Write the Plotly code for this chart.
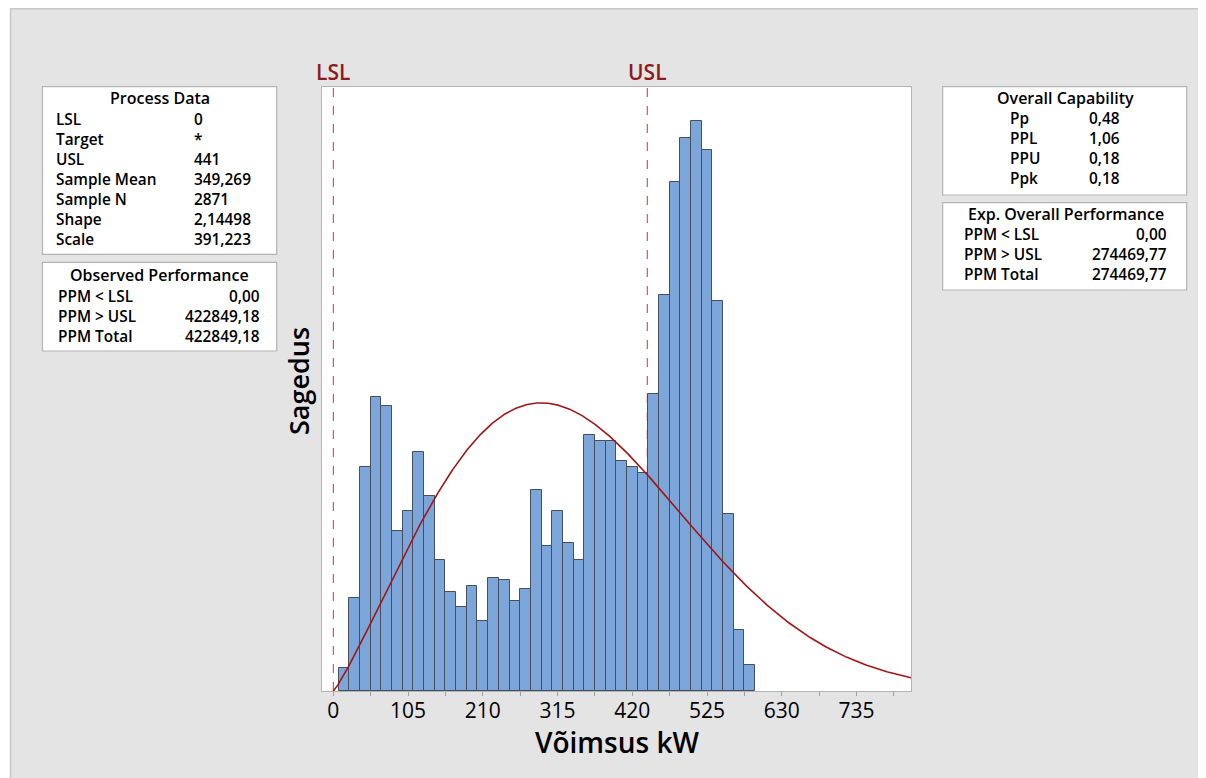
import numpy as np
import plotly.graph_objects as go

# ---------------- data ----------------
bin_centers = [15, 30, 45, 60, 75, 90, 105, 120, 135, 150, 165, 180, 195, 210, 225,
               240, 255, 270, 285, 300, 315, 330, 345, 360, 375, 390, 405, 420, 435,
               450, 465, 480, 495, 510, 525, 540, 555, 570, 585]
bin_counts = [8, 32, 77, 101, 98, 55, 62, 82, 67, 45, 34, 29, 36, 24, 39,
              38, 31, 35, 69, 50, 62, 51, 45, 88, 86, 86, 79, 77, 75,
              102, 136, 175, 190, 196, 186, 134, 61, 21, 9]
bin_width = 15
LSL = 0
USL = 441
sample_n = 2871
weib_shape = 2.14498
weib_scale = 391.223
tick_vals = [0, 52.5, 105, 157.5, 210, 262.5, 315, 367.5, 420, 472.5, 525, 577.5, 630, 682.5, 735, 787.5]
tick_text = ["0", "", "105", "", "210", "", "315", "", "420", "", "525", "", "630", "", "735", ""]

process_labels = ["LSL", "Target", "USL", "Sample Mean", "Sample N", "Shape", "Scale"]
process_values = ["0", "*", "441", "349,269", "2871", "2,14498", "391,223"]
obs_labels = ["PPM &lt; LSL", "PPM &gt; USL", "PPM Total"]
obs_values = ["0,00", "422849,18", "422849,18"]
cap_labels = ["Pp", "PPL", "PPU", "Ppk"]
cap_values = ["0,48", "1,06", "0,18", "0,18"]
exp_labels = ["PPM &lt; LSL", "PPM &gt; USL", "PPM Total"]
exp_values = ["0,00", "274469,77", "274469,77"]

# ---------------- geometry (page pixels; body margin 8px) ----------------
OFF = 8
W, H = 1206 - OFF, 778 - OFF
L, T = 322 - OFF, 87 - OFF
R = W - (911 - OFF)
B = H - (691 - OFF)
PW, PH = W - L - R, H - T - B
X_RANGE = [-15.9, 811.4]
Y_RANGE = [0, 207.6]


def px(x):
    return (x - OFF - L) / PW


def py(y):
    return (T + PH - (y - OFF)) / PH


FONT = "Open Sans"
DARKRED = "#8e1b1b"
ROW = 20.0
TS = ROW / 1.3          # plotly line spacing is 1.3 em
TITLE_S = 16

fig = go.Figure()

fig.add_trace(go.Bar(
    x=bin_centers, y=bin_counts, width=bin_width,
    marker=dict(color="#7ca6d9", line=dict(color="#464f5e", width=1)),
    hoverinfo="x+y", showlegend=False,
))

xs = np.linspace(0, X_RANGE[1], 600)
pdf = (weib_shape / weib_scale) * (xs / weib_scale) ** (weib_shape - 1) * np.exp(-(xs / weib_scale) ** weib_shape)
fig.add_trace(go.Scatter(
    x=xs, y=pdf * sample_n * bin_width, mode="lines",
    line=dict(color="#a31515", width=1.6), showlegend=False, hoverinfo="skip",
))

shapes = []
annotations = []

# white strip at left + panel border
shapes.append(dict(type="rect", xref="paper", yref="paper", x0=px(0), x1=px(10), y0=py(0), y1=py(778),
                   fillcolor="white", line=dict(width=0), layer="below"))
shapes.append(dict(type="line", xref="paper", yref="paper", x0=px(10), x1=px(1206), y0=py(8.8), y1=py(8.8),
                   line=dict(color="#c8c8c8", width=1.5), layer="below"))
shapes.append(dict(type="line", xref="paper", yref="paper", x0=px(10.5), x1=px(10.5), y0=py(8), y1=py(778),
                   line=dict(color="#c8c8c8", width=1.5), layer="below"))

# spec lines
for v in (LSL, USL):
    shapes.append(dict(type="line", xref="x", yref="paper", x0=v, x1=v, y0=0, y1=1,
                       line=dict(color="#d93030", width=1, dash="dash"), layer="below"))
for v, s in ((LSL, "LSL"), (USL, "USL")):
    annotations.append(dict(x=v, y=py(71.5), xref="x", yref="paper", text=s,
                            showarrow=False, borderpad=0,
                            font=dict(family=FONT, size=21, color=DARKRED, weight=600),
                            xanchor="center", yanchor="middle"))


def box(x0, y0, x1, y1):
    shapes.append(dict(type="rect", xref="paper", yref="paper", x0=px(x0), x1=px(x1), y0=py(y0), y1=py(y1),
                       fillcolor="white", line=dict(color="#b4b4b4", width=1.2), layer="below"))


def txt(x, y, s, anchor="left", size=TS):
    annotations.append(dict(x=px(x), y=py(y), xref="paper", yref="paper", text=s, showarrow=False,
                            borderpad=0, align=anchor,
                            font=dict(family=FONT, size=size, color="black", weight=600),
                            xanchor=anchor, yanchor="middle"))


def block(x, first_y, items, anchor):
    n = len(items)
    center = first_y + (n - 1) * ROW / 2
    txt(x, center, "<br>".join(items), anchor)


# Process Data
box(42.5, 86.7, 276.7, 254.3)
txt(159.5, 98, "Process Data", "center", TITLE_S)
block(54.5, 119.3, process_labels, "left")
block(193, 119.3, process_values, "left")

# Observed Performance
box(42.5, 262.3, 276.7, 351)
txt(159.5, 274.5, "Observed Performance", "center", TITLE_S)
block(57, 296, obs_labels, "left")
block(260.5, 296, obs_values, "right")

# Overall Capability
box(942.7, 86.7, 1186.7, 195)
txt(1065, 98, "Overall Capability", "center", TITLE_S)
block(1009, 119, cap_labels, "left")
block(1121, 119, cap_values, "right")

# Exp. Overall Performance
box(942.7, 202.7, 1186.7, 290)
txt(1065.5, 213.5, "Exp. Overall Performance", "center", TITLE_S)
block(963, 234.5, exp_labels, "left")
block(1167.5, 234.5, exp_values, "right")

# axis titles
annotations.append(dict(x=px(617), y=py(741.5), xref="paper", yref="paper", text="Võimsus kW", showarrow=False,
                        borderpad=0,
                        font=dict(family=FONT, size=28, color="black", weight=600), xanchor="center", yanchor="middle"))
annotations.append(dict(x=px(298), y=py(381), xref="paper", yref="paper", text="Sagedus", showarrow=False,
                        textangle=-90, borderpad=0,
                        font=dict(family=FONT, size=27, color="black", weight=600), xanchor="center", yanchor="middle"))

fig.update_layout(
    width=W, height=H, autosize=False,
    margin=dict(l=L, r=R, t=T, b=B, pad=0),
    paper_bgcolor="#e4e4e4", plot_bgcolor="white",
    bargap=0,
    shapes=shapes, annotations=annotations,
    font=dict(family=FONT, color="black"),
    xaxis=dict(range=X_RANGE, tickvals=tick_vals, ticktext=tick_text, ticks="outside", ticklen=4,
               tickcolor="#a0a0a0", tickwidth=1, showgrid=False, zeroline=False,
               showline=True, linecolor="#b4b4b4", linewidth=1.2, mirror=True,
               ticklabelstandoff=-3,
               tickfont=dict(family=FONT, size=21, color="black", weight=400)),
    yaxis=dict(range=Y_RANGE, showticklabels=False, ticks="", showgrid=False, zeroline=False,
               showline=True, linecolor="#b4b4b4", linewidth=1.2, mirror=True),
)

fig.write_html("out.html", default_width=f"{W}px", default_height=f"{H}px")
